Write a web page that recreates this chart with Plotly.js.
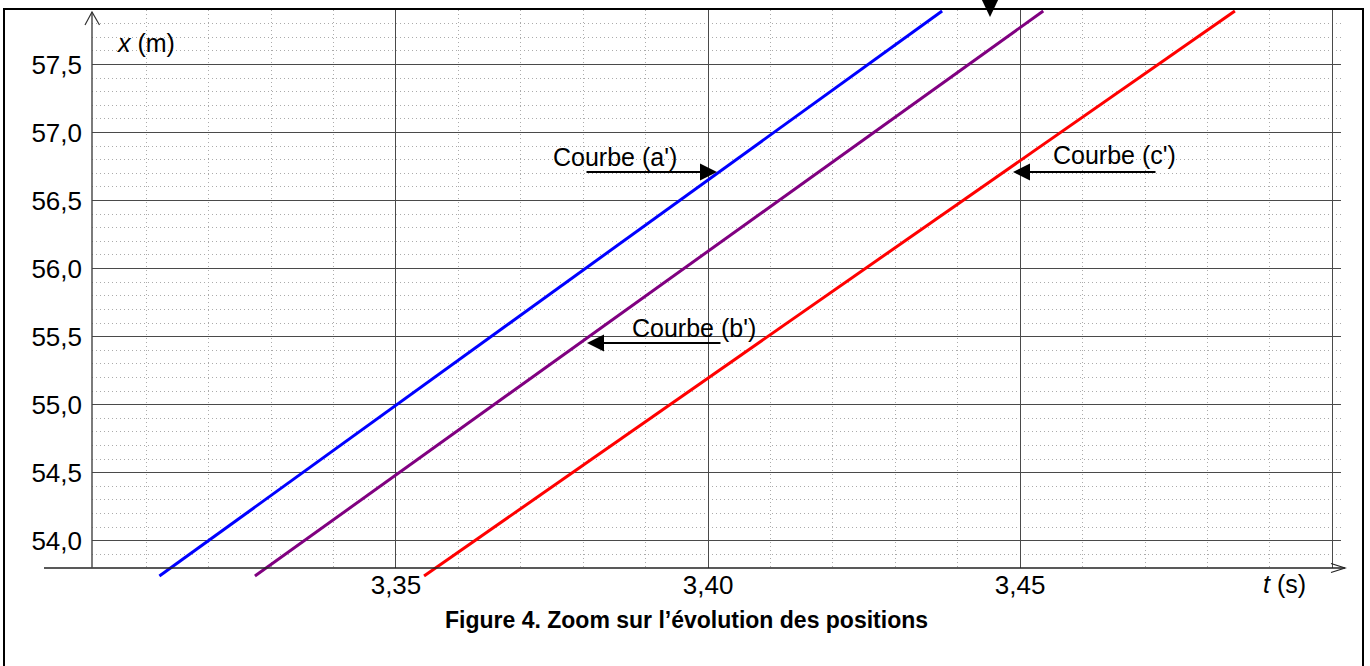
<!DOCTYPE html>
<html>
<head>
<meta charset="utf-8">
<script src="https://cdn.plot.ly/plotly-3.0.1.min.js"></script>
<style>html,body{margin:0;padding:0;background:#fff;}#chart{width:1370px;height:666px;}</style>
</head>
<body>
<div id="chart"></div>
<script>
// ---- data ----
const curveA_t = [3.3121, 3.4375];
const curveA_x = [53.741, 57.893];
const curveB_t = [3.3274, 3.4537];
const curveB_x = [53.741, 57.893];
const curveC_t = [3.3545, 3.4844];
const curveC_x = [53.741, 57.893];

const xTickVals = [3.35, 3.40, 3.45, 3.50];
const xTickText = ['3,35', '3,40', '3,45', ''];
const yTickVals = [54.0, 54.5, 55.0, 55.5, 56.0, 56.5, 57.0, 57.5];
const yTickText = ['54,0', '54,5', '55,0', '55,5', '56,0', '56,5', '57,0', '57,5'];

const curveNames = ["Courbe (a')", "Courbe (b')", "Courbe (c')"];
const captionText = 'Figure 4. Zoom sur l\u2019\u00e9volution des positions';

// ---- geometry ----
const FONT = 'Liberation Sans, Arial, sans-serif';
const TXT = 25;
const TICK = 26;
const xRange = [3.3013, 3.5014];
const yRange = [53.8, 57.9];
const yDomLow = 13 / 571;
const y2Range = [53.8 - 13 / 136.1, 57.9];

function lineTrace(t, x, color, name) {
  return {x: t, y: x, xaxis: 'x2', yaxis: 'y2', mode: 'lines', name: name,
          line: {color: color, width: 3}, hoverinfo: 'skip'};
}

const traces = [
  // empty trace so the grid subplot (x, y) is built
  {x: [], y: [], xaxis: 'x', yaxis: 'y', mode: 'lines', hoverinfo: 'skip', showlegend: false},
  lineTrace(curveA_t, curveA_x, '#0000ff', curveNames[0]),
  lineTrace(curveB_t, curveB_x, '#800080', curveNames[1]),
  lineTrace(curveC_t, curveC_x, '#ff0000', curveNames[2])
];

// pixel -> paper helpers (plot area: x 92..1341, y 10..581)
const px = p => (p - 92) / 1249;
const py = p => (581 - p) / 571;

const minorGrid = {showgrid: true, gridcolor: '#ababab', gridwidth: 1, griddash: '1px,3px'};

const layout = {
  width: 1370, height: 666,
  margin: {l: 92, r: 29, t: 10, b: 85},
  paper_bgcolor: '#ffffff', plot_bgcolor: 'rgba(0,0,0,0)',
  showlegend: false,
  font: {family: FONT, color: '#000', size: TXT},
  xaxis: {
    range: xRange, domain: [0, 1], anchor: 'y',
    tickvals: xTickVals, ticktext: xTickText,
    showgrid: true, gridcolor: '#4a4a4a', gridwidth: 1,
    zeroline: false, showline: false, ticks: '',
    ticklabelstandoff: -1,
    tickfont: {family: FONT, size: TICK, color: '#000'},
    minor: Object.assign({dtick: 0.01, tick0: 3.30}, minorGrid)
  },
  yaxis: {
    range: yRange, domain: [yDomLow, 1], anchor: 'x',
    tickvals: yTickVals, ticktext: yTickText,
    showgrid: true, gridcolor: '#4a4a4a', gridwidth: 1,
    zeroline: false, showline: false, ticks: '',
    ticklabelstandoff: 9,
    tickfont: {family: FONT, size: TICK, color: '#000'},
    minor: Object.assign({dtick: 0.1, tick0: 53.8}, minorGrid)
  },
  xaxis2: {range: xRange, domain: [0, 1], anchor: 'y2', visible: false, showgrid: false, zeroline: false},
  yaxis2: {range: y2Range, domain: [0, 1], anchor: 'x2', visible: false, showgrid: false, zeroline: false},
  shapes: [
    // outer frame
    {type: 'rect', xref: 'paper', yref: 'paper', x0: px(4), x1: px(1363), y0: py(700), y1: py(9),
     line: {color: '#000', width: 2}, layer: 'above'},
    // x axis line with open arrow
    {type: 'line', xref: 'paper', yref: 'paper', x0: px(44), x1: px(1345), y0: py(568), y1: py(568),
     line: {color: '#222', width: 1.6}, layer: 'above'},
    {type: 'path', xref: 'paper', yref: 'paper',
     path: `M${px(1331)},${py(563.5)} L${px(1345)},${py(568)} L${px(1331)},${py(572.5)}`,
     line: {color: '#222', width: 1.2}, layer: 'above'},
    // y axis line with open arrow
    {type: 'line', xref: 'paper', yref: 'paper', x0: px(92), x1: px(92), y0: py(568), y1: py(12),
     line: {color: '#444', width: 1.4}, layer: 'above'},
    {type: 'path', xref: 'paper', yref: 'paper',
     path: `M${px(85)},${py(25)} L${px(92)},${py(12)} L${px(99.5)},${py(25)}`,
     line: {color: '#333', width: 1.2}, layer: 'above'},
    // black triangle at top
    {type: 'path', xref: 'paper', yref: 'paper',
     path: `M${px(980.5)},${py(-3)} L${px(999.5)},${py(-3)} L${px(990)},${py(17)} Z`,
     fillcolor: '#000', line: {color: '#000', width: 0}, layer: 'above'}
  ],
  annotations: [
    // axis labels
    {xref: 'paper', yref: 'paper', x: px(115), y: py(42.5), xanchor: 'left', yanchor: 'middle',
     text: '<i>x</i> (m)', showarrow: false, font: {family: FONT, size: TXT, color: '#000'}},
    {xref: 'paper', yref: 'paper', x: px(1261), y: py(584), xanchor: 'left', yanchor: 'middle',
     text: '<i>t</i> (s)', showarrow: false, font: {family: FONT, size: TXT, color: '#000'}},
    // caption
    {xref: 'paper', yref: 'paper', x: px(686), y: py(620), xanchor: 'center', yanchor: 'middle',
     text: '<b>' + captionText + '</b>', showarrow: false, font: {family: FONT, size: 23, color: '#000'}},
    // curve labels
    {xref: 'paper', yref: 'paper', x: px(551), y: py(157), xanchor: 'left', yanchor: 'middle',
     text: curveNames[0], showarrow: false, font: {family: FONT, size: TXT, color: '#000'}},
    {xref: 'paper', yref: 'paper', x: px(630), y: py(328), xanchor: 'left', yanchor: 'middle',
     text: curveNames[1], showarrow: false, font: {family: FONT, size: TXT, color: '#000'}},
    {xref: 'paper', yref: 'paper', x: px(1051), y: py(155), xanchor: 'left', yanchor: 'middle',
     text: curveNames[2], showarrow: false, font: {family: FONT, size: TXT, color: '#000'}},
    // arrows
    {xref: 'paper', yref: 'paper', axref: 'paper', ayref: 'paper',
     x: px(717), y: py(172), ax: px(585), ay: py(172), text: '', showarrow: true,
     arrowhead: 2, arrowsize: 1.7, arrowwidth: 2, arrowcolor: '#000', standoff: 0, startstandoff: 0},
    {xref: 'paper', yref: 'paper', axref: 'paper', ayref: 'paper',
     x: px(587), y: py(343), ax: px(722), ay: py(343), text: '', showarrow: true,
     arrowhead: 2, arrowsize: 1.7, arrowwidth: 2, arrowcolor: '#000', standoff: 0, startstandoff: 0},
    {xref: 'paper', yref: 'paper', axref: 'paper', ayref: 'paper',
     x: px(1013), y: py(172), ax: px(1157), ay: py(172), text: '', showarrow: true,
     arrowhead: 2, arrowsize: 1.7, arrowwidth: 2, arrowcolor: '#000', standoff: 0, startstandoff: 0}
  ]
};

Plotly.newPlot('chart', traces, layout, {staticPlot: true, displayModeBar: false});
</script>
</body>
</html>
